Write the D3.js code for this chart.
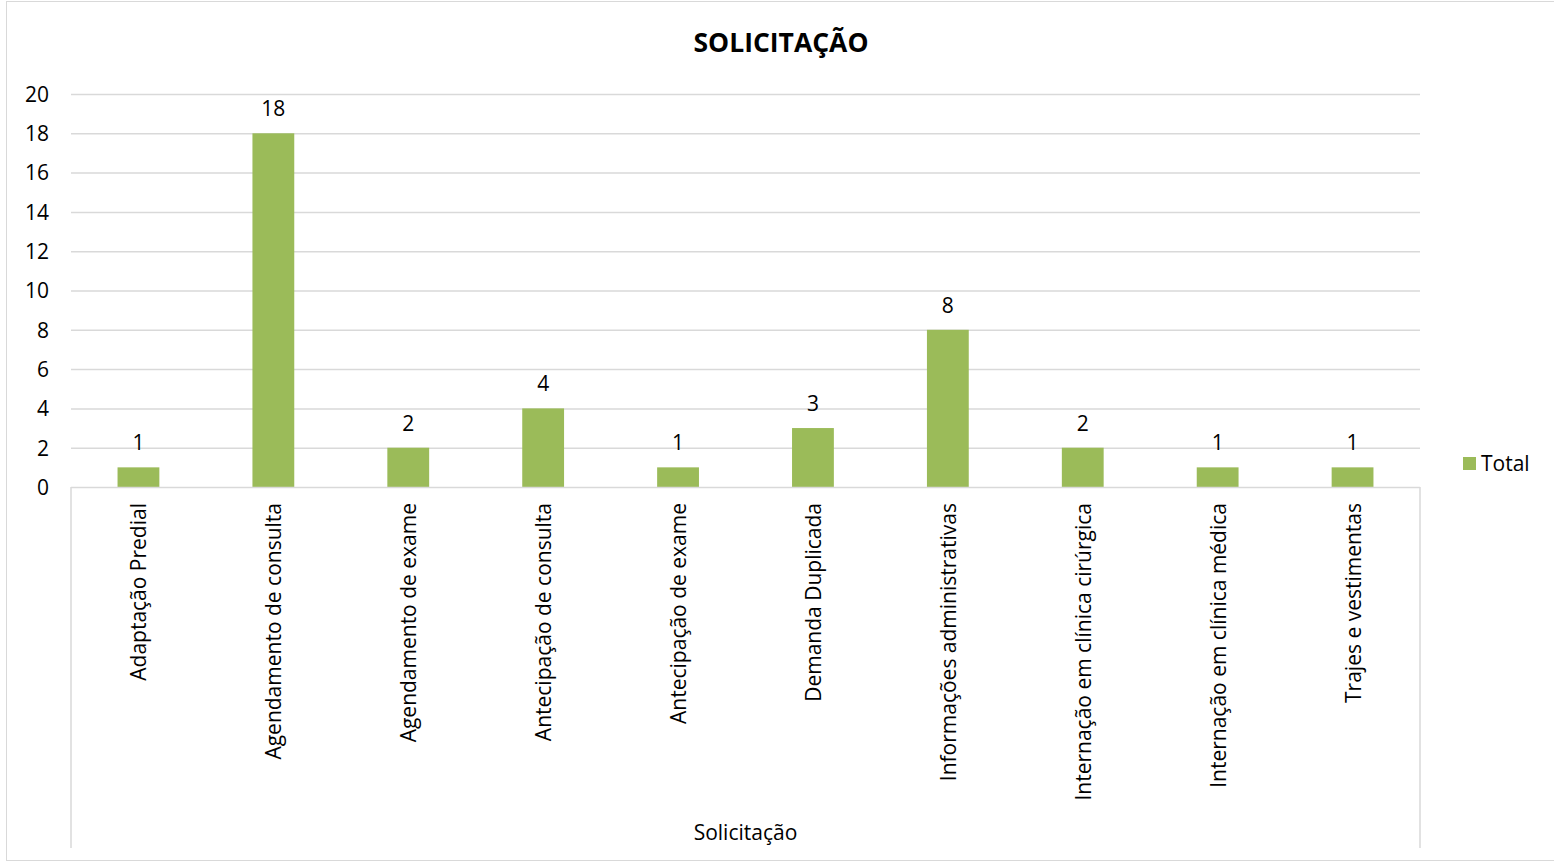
<!DOCTYPE html>
<html><head><meta charset="utf-8">
<script src="https://cdn.jsdelivr.net/npm/d3@7"></script>
<style>body{margin:0;background:#fff}svg{display:block}text{font-family:"Open Sans","Liberation Sans",sans-serif;fill:#000}</style>
</head><body><svg id="c" width="1554" height="862"></svg>
<script>
const categories = ["Adaptação Predial","Agendamento de consulta","Agendamento de exame","Antecipação de consulta","Antecipação de exame","Demanda Duplicada","Informações administrativas","Internação em clínica cirúrgica","Internação em clínica médica","Trajes e vestimentas"];
const values = [1,18,2,4,1,3,8,2,1,1];
const yTicks = [0,2,4,6,8,10,12,14,16,18,20];
const seriesName = "Total";
const title = "SOLICITAÇÃO";
const axisTitle = "Solicitação";

const svg = d3.select("#c");
const color = "#9BBB59";
const L = 71, R = 1420, T = 94, B = 487, catBottom = 848;

svg.append("rect").attr("x",6.5).attr("y",1.5).attr("width",1560).attr("height",859).attr("fill","none").attr("stroke","#d9d9d9");

const x = d3.scaleBand().domain(categories).range([L,R]).paddingInner(0.69).paddingOuter(0.345);
const y = d3.scaleLinear().domain([0,20]).range([B,T]);

svg.append("g").selectAll("line").data(yTicks.filter(d=>d>0)).join("line")
  .attr("x1",L).attr("x2",R).attr("y1",d=>y(d)+0.5).attr("y2",d=>y(d)+0.5)
  .attr("stroke","#d9d9d9").attr("stroke-width",1.5);

const yAxis = d3.axisLeft(y).tickValues(yTicks).tickSize(0).tickPadding(0);
const gy = svg.append("g").attr("transform",`translate(${L-22},0)`).call(yAxis);
gy.select(".domain").remove();
gy.selectAll("text").attr("font-size",21).attr("text-anchor","end").attr("font-family","'Open Sans',sans-serif").attr("fill","#000").attr("dy","0.35em");

svg.append("g").selectAll("rect").data(values).join("rect")
  .attr("x",(d,i)=>x(categories[i])).attr("y",d=>y(d)).attr("width",x.bandwidth()).attr("height",d=>y(0)-y(d)).attr("fill",color);

svg.append("g").selectAll("text").data(values).join("text")
  .attr("x",(d,i)=>x(categories[i])+x.bandwidth()/2).attr("y",d=>y(d)-17)
  .attr("text-anchor","middle").attr("font-size",21).text(d=>d);

// category axis box
const axisG = svg.append("g").attr("stroke","#d9d9d9").attr("stroke-width",1.5);
axisG.append("line").attr("x1",L).attr("x2",R).attr("y1",B+0.5).attr("y2",B+0.5);
axisG.append("line").attr("x1",L).attr("x2",L).attr("y1",B).attr("y2",catBottom);
axisG.append("line").attr("x1",R).attr("x2",R).attr("y1",B).attr("y2",catBottom);

svg.append("g").selectAll("text").data(categories).join("text")
  .attr("transform",d=>`translate(${x(d)+x.bandwidth()/2+8},${B+16}) rotate(-90)`)
  .attr("text-anchor","end").attr("font-size",21).text(d=>d);

svg.append("text").attr("x",(L+R)/2).attr("y",840).attr("text-anchor","middle").attr("font-size",21).text(axisTitle);
svg.append("text").attr("x",781).attr("y",52).attr("text-anchor","middle").attr("font-size",26.5).attr("font-weight","bold").text(title);

svg.append("rect").attr("x",1463).attr("y",457).attr("width",13).attr("height",13).attr("fill",color);
svg.append("text").attr("x",1481).attr("y",471).attr("font-size",21).text(seriesName);
</script></body></html>
